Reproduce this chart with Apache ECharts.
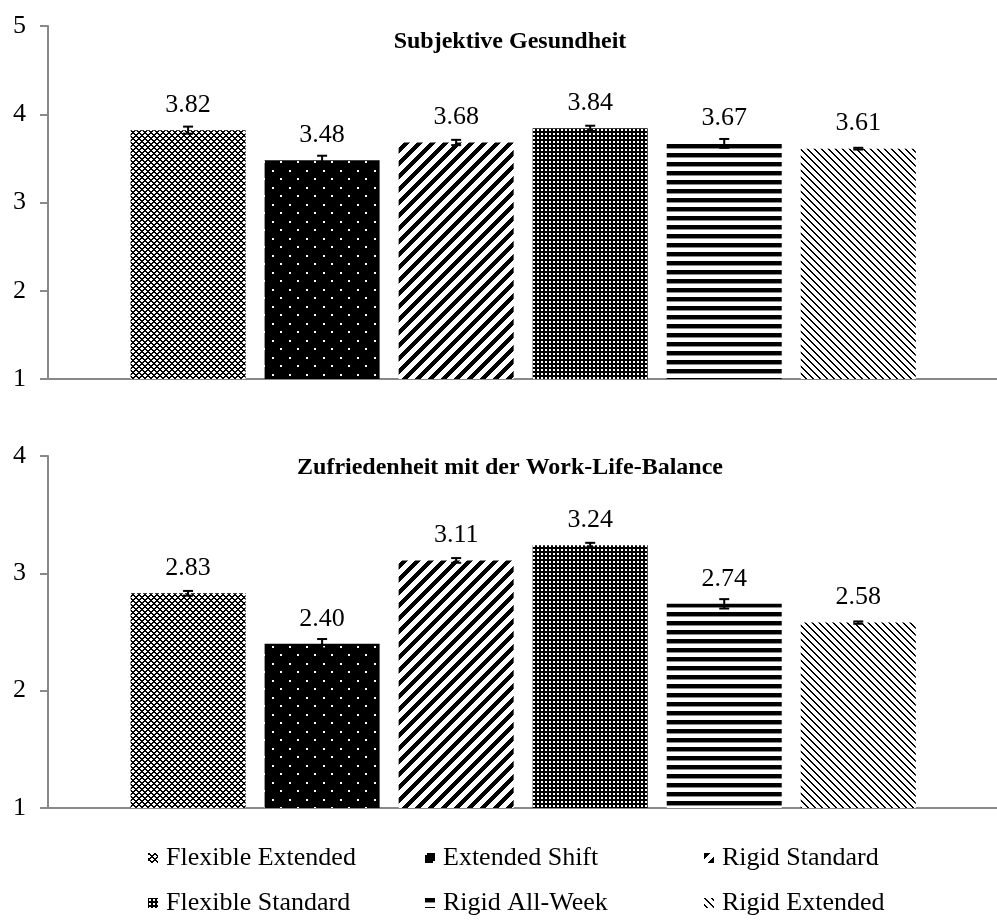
<!DOCTYPE html>
<html><head><meta charset="utf-8">
<script src="https://cdn.jsdelivr.net/npm/echarts@6/dist/echarts.min.js"></script>
<style>html,body{margin:0;padding:0;background:#fff}#c{width:997px;height:920px}</style>
</head><body><div id="c"></div>
<script>
// ---- data ----
const groups = ['Flexible Extended', 'Extended Shift', 'Rigid Standard', 'Flexible Standard', 'Rigid All-Week', 'Rigid Extended'];
const healthValues = [3.82, 3.48, 3.68, 3.84, 3.67, 3.61];
const healthErrors = [0.04, 0.05, 0.03, 0.03, 0.05, 0.01];
const wlbValues = [2.83, 2.40, 3.11, 3.24, 2.74, 2.58];
const wlbErrors = [0.02, 0.04, 0.02, 0.02, 0.04, 0.01];
const healthTicks = [1, 2, 3, 4, 5];
const wlbTicks = [1, 2, 3, 4];
const titles = ['Subjektive Gesundheit', 'Zufriedenheit mit der Work-Life-Balance'];

// ---- patterns ----
function pattern(w, h, fn) {
  const c = document.createElement('canvas'); c.width = w; c.height = h;
  const ctx = c.getContext('2d'); const img = ctx.createImageData(w, h);
  for (let y = 0; y < h; y++) for (let x = 0; x < w; x++) {
    const v = fn(x, y); const i = (y * w + x) * 4;
    img.data[i] = img.data[i + 1] = img.data[i + 2] = v; img.data[i + 3] = 255;
  }
  ctx.putImageData(img, 0, 0);
  return { image: c, repeat: 'repeat' };
}
const fills = [
  pattern(6, 6, (x, y) => (((x + y) % 6 < 2) || ((x - y + 6) % 6 < 2)) ? 0 : 255),
  pattern(17, 17, (x, y) => ((x < 2 && y < 2) || (x >= 8 && x < 10 && y >= 8 && y < 10)) ? 255 : 0),
  pattern(13, 13, (x, y) => ((x + y) % 13 < 6) ? 0 : 255),
  pattern(4, 4, (x, y) => (x >= 1 && x <= 2 && y >= 1 && y <= 2) ? 255 : 0),
  pattern(1, 9, (x, y) => y < 4 ? 0 : (y === 4 ? 140 : 255)),
  pattern(7, 7, (x, y) => ((x - y + 7) % 7 < 2) ? 0 : 255)
];

const FONT = 'Liberation Serif';
const axisColor = '#888888';

function errRender(params, api) {
  const x = api.value(0), v = api.value(1), e = api.value(2);
  const t = api.coord([x, v + e]), b = api.coord([x, v - e]);
  const h = 5, st = { stroke: '#000', lineWidth: 2 };
  return { type: 'group', children: [
    { type: 'line', shape: { x1: t[0], y1: t[1], x2: b[0], y2: b[1] }, style: st },
    { type: 'line', shape: { x1: t[0] - h, y1: t[1], x2: t[0] + h, y2: t[1] }, style: st },
    { type: 'line', shape: { x1: b[0] - h, y1: b[1], x2: b[0] + h, y2: b[1] }, style: st }
  ]};
}

const charts = [
  { values: healthValues, errors: healthErrors, ticks: healthTicks },
  { values: wlbValues, errors: wlbErrors, ticks: wlbTicks }
];

const series = [];
charts.forEach((ch, k) => {
  groups.forEach((g, i) => {
    series.push({
      name: g, type: 'bar', xAxisIndex: k, yAxisIndex: k,
      data: [[i, ch.values[i]]],
      barWidth: 115, barGap: '-100%',
      itemStyle: { color: fills[i] },
      label: { show: true, position: 'top', distance: 12,
        formatter: p => p.value[1].toFixed(2),
        fontFamily: FONT, fontSize: 26, color: '#000' },
      emphasis: { disabled: true }, silent: true
    });
  });
  series.push({
    type: 'custom', xAxisIndex: k, yAxisIndex: k, z: 10, silent: true,
    data: ch.values.map((v, i) => [i, v, ch.errors[i]]),
    encode: { x: 0, y: 1 },
    renderItem: errRender
  });
});

const lineStyle = { color: axisColor, width: 2 };
const option = {
  animation: false,
  backgroundColor: '#fff',
  title: titles.map((t, k) => ({
    text: t, left: 510, textAlign: 'center', top: k === 0 ? 30 : 456, padding: 0,
    textStyle: { fontFamily: FONT, fontWeight: 'bold', fontSize: 24, color: '#000' }
  })),
  grid: [
    { left: 48, top: 26, width: 960, height: 353 },
    { left: 48, top: 456, width: 960, height: 352 }
  ],
  xAxis: charts.map((ch, k) => ({
    gridIndex: k, type: 'value', min: -1.045, max: 6.035,
    axisLine: { show: true, onZero: false, lineStyle },
    axisTick: { show: false }, axisLabel: { show: false }, splitLine: { show: false }
  })),
  yAxis: charts.map((ch, k) => ({
    gridIndex: k, type: 'value', min: ch.ticks[0], max: ch.ticks[ch.ticks.length - 1], interval: 1,
    axisLine: { show: true, onZero: false, lineStyle },
    axisTick: { show: true, length: 8, lineStyle },
    axisLabel: { fontFamily: FONT, fontSize: 26, color: '#000', margin: 22 },
    splitLine: { show: false }
  })),
  legend: [148, 425, 704].map((left, c) => ({
    orient: 'vertical', left: left, top: 845, padding: 0,
    itemWidth: 10, itemHeight: 10, itemGap: 19, icon: 'rect', selectedMode: false,
    data: [groups[c], groups[c + 3]],
    textStyle: { fontFamily: FONT, fontSize: 26, color: '#000', lineHeight: 26, padding: [0, 0, 0, 3] }
  })),
  series: series
};
const chart = echarts.init(document.getElementById('c'), null, { renderer: 'canvas' });
chart.setOption(option);
</script></body></html>
